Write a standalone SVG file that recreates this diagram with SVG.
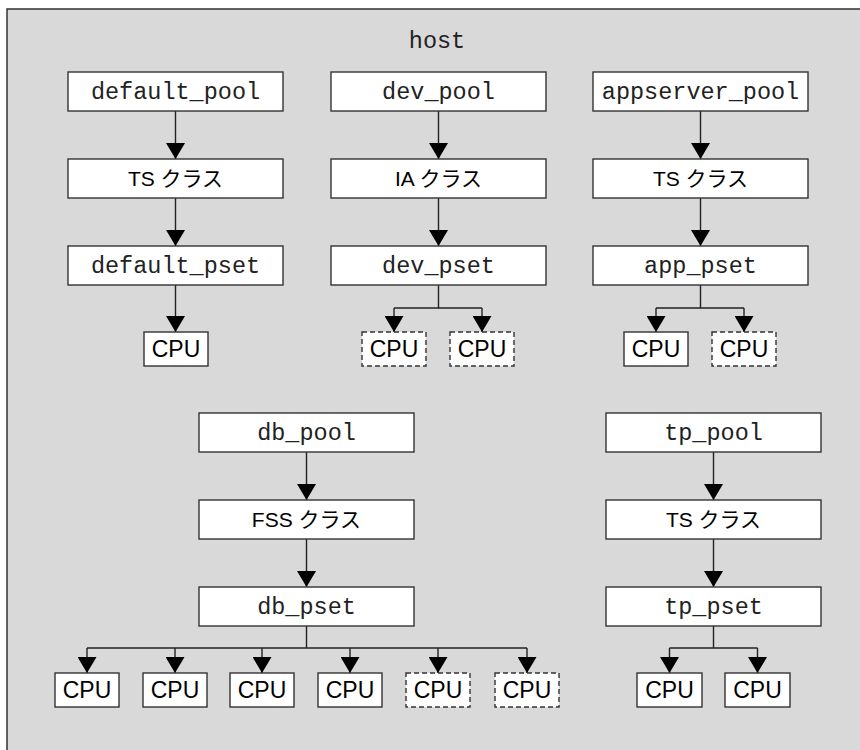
<svg xmlns="http://www.w3.org/2000/svg" width="860" height="750" viewBox="0 0 860 750">
<defs>
<style>
.bg{fill:#d9d9d9;stroke:#333;stroke-width:1.5}
.box{fill:#fff;stroke:#333;stroke-width:1.4}
.dash{fill:#fff;stroke:#333;stroke-width:1.4;stroke-dasharray:5 3}
.mono{font-family:"Liberation Mono","Courier New",monospace;font-size:23.5px;fill:#222;text-anchor:middle}
.sans{font-family:"Liberation Sans","Noto Sans CJK JP",sans-serif;font-size:21px;fill:#000;text-anchor:middle}
.cpu{font-family:"Liberation Sans",Arial,sans-serif;font-size:23px;fill:#000;text-anchor:middle}
.ln{fill:none;stroke:#222;stroke-width:1.4}
</style>
<marker id="ah" viewBox="0 0 16 19" refX="16" refY="9.5" markerWidth="16" markerHeight="19" orient="auto" markerUnits="userSpaceOnUse">
<path d="M0,0 L16,9.5 L0,19 z" fill="#000"/>
</marker>
</defs>
<rect class="bg" x="7" y="9" width="870" height="760"/>
<text id="host" class="mono" x="437" y="48">host</text>

<g id="connectors">
<line class="ln" x1="175.5" y1="111" x2="175.5" y2="159" marker-end="url(#ah)"/>
<line class="ln" x1="175.5" y1="198" x2="175.5" y2="246" marker-end="url(#ah)"/>
<line class="ln" x1="175.5" y1="285" x2="175.5" y2="332" marker-end="url(#ah)"/>

<line class="ln" x1="438.5" y1="111" x2="438.5" y2="159" marker-end="url(#ah)"/>
<line class="ln" x1="438.5" y1="198" x2="438.5" y2="246" marker-end="url(#ah)"/>
<polyline class="ln" points="438.5,285 438.5,308 394,308"/>
<polyline class="ln" points="438.5,308 482,308"/>
<line class="ln" x1="394" y1="308" x2="394" y2="332" marker-end="url(#ah)"/>
<line class="ln" x1="482" y1="308" x2="482" y2="332" marker-end="url(#ah)"/>

<line class="ln" x1="700.5" y1="111" x2="700.5" y2="159" marker-end="url(#ah)"/>
<line class="ln" x1="700.5" y1="198" x2="700.5" y2="246" marker-end="url(#ah)"/>
<polyline class="ln" points="700.5,285 700.5,308 656,308"/>
<polyline class="ln" points="700.5,308 744,308"/>
<line class="ln" x1="656" y1="308" x2="656" y2="332" marker-end="url(#ah)"/>
<line class="ln" x1="744" y1="308" x2="744" y2="332" marker-end="url(#ah)"/>

<line class="ln" x1="306.5" y1="452" x2="306.5" y2="500" marker-end="url(#ah)"/>
<line class="ln" x1="306.5" y1="539" x2="306.5" y2="587" marker-end="url(#ah)"/>
<polyline class="ln" points="306.5,626 306.5,648"/>
<polyline class="ln" points="87,648 527,648"/>
<line class="ln" x1="87" y1="648" x2="87" y2="673" marker-end="url(#ah)"/>
<line class="ln" x1="175" y1="648" x2="175" y2="673" marker-end="url(#ah)"/>
<line class="ln" x1="262" y1="648" x2="262" y2="673" marker-end="url(#ah)"/>
<line class="ln" x1="350" y1="648" x2="350" y2="673" marker-end="url(#ah)"/>
<line class="ln" x1="438" y1="648" x2="438" y2="673" marker-end="url(#ah)"/>
<line class="ln" x1="527" y1="648" x2="527" y2="673" marker-end="url(#ah)"/>

<line class="ln" x1="713.5" y1="452" x2="713.5" y2="500" marker-end="url(#ah)"/>
<line class="ln" x1="713.5" y1="539" x2="713.5" y2="587" marker-end="url(#ah)"/>
<polyline class="ln" points="713.5,626 713.5,648"/>
<polyline class="ln" points="669.5,648 757.5,648"/>
<line class="ln" x1="669.5" y1="648" x2="669.5" y2="673" marker-end="url(#ah)"/>
<line class="ln" x1="757.5" y1="648" x2="757.5" y2="673" marker-end="url(#ah)"/>
</g>

<g id="default_pool"><rect class="box" x="68" y="72" width="215" height="39"/><text class="mono" x="175.5" y="99">default_pool</text></g>
<g id="default_class"><rect class="box" x="68" y="159" width="215" height="39"/><text class="sans" x="175.5" y="186">TS クラス</text></g>
<g id="default_pset"><rect class="box" x="68" y="246" width="215" height="39"/><text class="mono" x="175.5" y="273">default_pset</text></g>
<g id="default_cpu1"><rect class="box" x="144" y="332" width="64" height="34"/><text class="cpu" x="176" y="357">CPU</text></g>

<g id="dev_pool"><rect class="box" x="331" y="72" width="215" height="39"/><text class="mono" x="438.5" y="99">dev_pool</text></g>
<g id="dev_class"><rect class="box" x="331" y="159" width="215" height="39"/><text class="sans" x="438.5" y="186">IA クラス</text></g>
<g id="dev_pset"><rect class="box" x="331" y="246" width="215" height="39"/><text class="mono" x="438.5" y="273">dev_pset</text></g>
<g id="dev_cpu1"><rect class="dash" x="362" y="332" width="64" height="34"/><text class="cpu" x="394" y="357">CPU</text></g>
<g id="dev_cpu2"><rect class="dash" x="450" y="332" width="64" height="34"/><text class="cpu" x="482" y="357">CPU</text></g>

<g id="appserver_pool"><rect class="box" x="593" y="72" width="215" height="39"/><text class="mono" x="700.5" y="99">appserver_pool</text></g>
<g id="app_class"><rect class="box" x="593" y="159" width="215" height="39"/><text class="sans" x="700.5" y="186">TS クラス</text></g>
<g id="app_pset"><rect class="box" x="593" y="246" width="215" height="39"/><text class="mono" x="700.5" y="273">app_pset</text></g>
<g id="app_cpu1"><rect class="box" x="624" y="332" width="64" height="34"/><text class="cpu" x="656" y="357">CPU</text></g>
<g id="app_cpu2"><rect class="dash" x="712" y="332" width="64" height="34"/><text class="cpu" x="744" y="357">CPU</text></g>

<g id="db_pool"><rect class="box" x="199" y="413" width="215" height="39"/><text class="mono" x="306.5" y="440">db_pool</text></g>
<g id="db_class"><rect class="box" x="199" y="500" width="215" height="39"/><text class="sans" x="306.5" y="527">FSS クラス</text></g>
<g id="db_pset"><rect class="box" x="199" y="587" width="215" height="39"/><text class="mono" x="306.5" y="614">db_pset</text></g>
<g id="db_cpu1"><rect class="box" x="55" y="673" width="64" height="34"/><text class="cpu" x="87" y="698">CPU</text></g>
<g id="db_cpu2"><rect class="box" x="143" y="673" width="64" height="34"/><text class="cpu" x="175" y="698">CPU</text></g>
<g id="db_cpu3"><rect class="box" x="230" y="673" width="64" height="34"/><text class="cpu" x="262" y="698">CPU</text></g>
<g id="db_cpu4"><rect class="box" x="318" y="673" width="64" height="34"/><text class="cpu" x="350" y="698">CPU</text></g>
<g id="db_cpu5"><rect class="dash" x="406" y="673" width="64" height="34"/><text class="cpu" x="438" y="698">CPU</text></g>
<g id="db_cpu6"><rect class="dash" x="495" y="673" width="64" height="34"/><text class="cpu" x="527" y="698">CPU</text></g>

<g id="tp_pool"><rect class="box" x="606" y="413" width="215" height="39"/><text class="mono" x="713.5" y="440">tp_pool</text></g>
<g id="tp_class"><rect class="box" x="606" y="500" width="215" height="39"/><text class="sans" x="713.5" y="527">TS クラス</text></g>
<g id="tp_pset"><rect class="box" x="606" y="587" width="215" height="39"/><text class="mono" x="713.5" y="614">tp_pset</text></g>
<g id="tp_cpu1"><rect class="box" x="637" y="673" width="65" height="34"/><text class="cpu" x="669.5" y="698">CPU</text></g>
<g id="tp_cpu2"><rect class="box" x="725" y="673" width="65" height="34"/><text class="cpu" x="757.5" y="698">CPU</text></g>
</svg>
